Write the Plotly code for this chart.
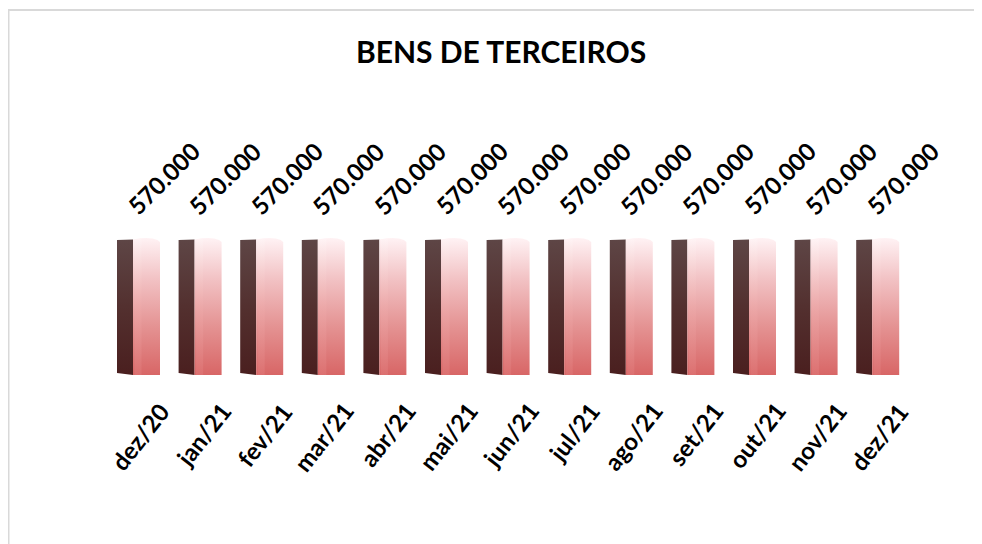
import plotly.graph_objects as go

categories = ["dez/20", "jan/21", "fev/21", "mar/21", "abr/21", "mai/21", "jun/21",
              "jul/21", "ago/21", "set/21", "out/21", "nov/21", "dez/21"]
values = [570000] * 13
title_text = "BENS DE TERCEIROS"

OFF = 8                      # default page body margin
W, H = 982 - OFF, 544 - OFF  # figure size
SLOT = 61.6                  # px per category
CENTER0 = 138.5 - OFF        # px of first category
ZERO_PX = 375 - OFF          # px of y = 0
TOP_PX = 238 - OFF           # px of the max bar top
vmax = max(values)
sy = vmax / (ZERO_PX - TOP_PX)   # data units per px (y)

x0 = -CENTER0 / SLOT
x1 = x0 + W / SLOT
yr = [-(H - ZERO_PX) * sy, ZERO_PX * sy]

def dx(px):
    return px / SLOT

def dy(px):
    return px * sy

FONT = "Lato"
fig = go.Figure()

dark_scale = [[0, "#4a1f1f"], [0.5, "#53302f"], [1, "#5e4646"]]
light_scale = [[0, "#d86666"], [0.35, "#e49292"], [0.7, "#f2c2c4"], [1, "#fff2f4"]]
hl_scale = [[0, "#e07878"], [0.5, "#eeaaaa"], [1, "#fff6f7"]]

for i, v in enumerate(values):
    # dark side face
    xs = [i + dx(-21.5), i + dx(-5.5), i + dx(-5.5), i + dx(-21.5)]
    ys = [dy(2), 0, v - dy(1.5), v - dy(2)]
    fig.add_trace(go.Scatter(x=xs + [xs[0]], y=ys + [ys[0]], mode="lines",
                             line=dict(width=0), fill="toself",
                             fillgradient=dict(type="vertical", colorscale=dark_scale,
                                               start=0, stop=v),
                             hoverinfo="skip", showlegend=False))
    # light front face with rounded top
    offs = [(-5.5, 0), (21.5, 0), (21.5, -4), (19, -2), (14, -0.6), (8, 0), (2, -0.3), (-5.5, -1.5)]
    xs = [i + dx(a) for a, b in offs]
    ys = [(v + dy(b)) if k >= 2 else dy(b) for k, (a, b) in enumerate(offs)]
    fig.add_trace(go.Scatter(x=xs + [xs[0]], y=ys + [ys[0]], mode="lines",
                             line=dict(width=0), fill="toself",
                             fillgradient=dict(type="vertical", colorscale=light_scale,
                                               start=0, stop=v),
                             hoverinfo="skip", showlegend=False))
    # subtle highlight strip
    xs = [i + dx(-4), i + dx(3), i + dx(3), i + dx(-4)]
    ys = [0, 0, v - dy(0.6), v - dy(1.4)]
    fig.add_trace(go.Scatter(x=xs + [xs[0]], y=ys + [ys[0]], mode="lines",
                             line=dict(width=0), fill="toself", opacity=0.55,
                             fillgradient=dict(type="vertical", colorscale=hl_scale,
                                               start=0, stop=v),
                             hoverinfo="skip", showlegend=False))
    # value label
    fig.add_annotation(x=i, y=v, xref="x", yref="y",
                       text=f"{v:,.0f}".replace(",", "."),
                       textangle=-45, showarrow=False,
                       xanchor="left", yanchor="bottom", xshift=-20, yshift=15,
                       font=dict(family=FONT, size=24, color="#000000", weight="bold"))
    # category label
    fig.add_annotation(x=i, y=0, xref="x", yref="y", text=categories[i],
                       textangle=-52, showarrow=False,
                       xanchor="right", yanchor="top", xshift=39, yshift=-19,
                       font=dict(family=FONT, size=24, color="#000000", weight="bold"))

# chart area border
fig.add_shape(type="line", xref="paper", yref="paper",
              x0=0.5 / W, y0=0, x1=0.5 / W, y1=1 - 2 / H,
              line=dict(color="#d9d9d9", width=2))
fig.add_shape(type="line", xref="paper", yref="paper",
              x0=0, y0=1 - 2 / H, x1=1, y1=1 - 2 / H,
              line=dict(color="#d9d9d9", width=2))

fig.update_layout(
    width=W, height=H,
    margin=dict(l=0, r=0, t=0, b=0),
    paper_bgcolor="white", plot_bgcolor="white",
    title=dict(text=title_text, x=(501 - OFF) / W, xanchor="center",
               y=1 - (52 - OFF) / H, yanchor="middle",
               font=dict(family=FONT, size=30, color="#000000", weight="bold")),
    xaxis=dict(range=[x0, x1], visible=False, fixedrange=True),
    yaxis=dict(range=yr, visible=False, fixedrange=True),
    showlegend=False,
)

fig.write_html("out.html")
